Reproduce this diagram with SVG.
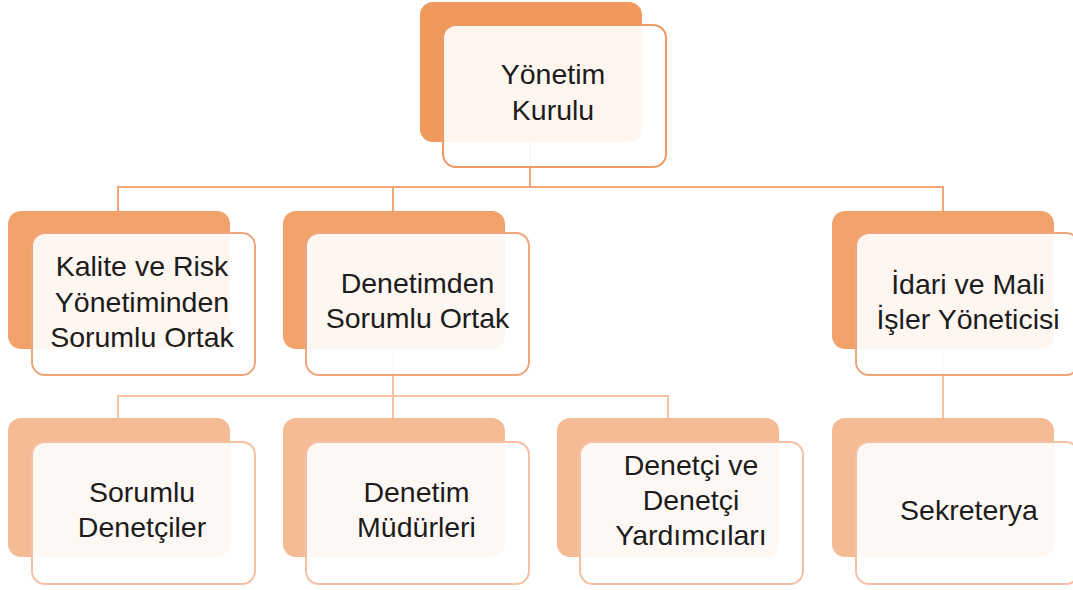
<svg xmlns="http://www.w3.org/2000/svg" width="1073" height="590" viewBox="0 0 1073 590">
<style>
.bg{fill:#ffffff}
.c1{fill:none;stroke:#F2A677;stroke-width:2}
.c2{fill:none;stroke:#F6C2A4;stroke-width:2}
.b1{fill:#EF9A5C}
.b2{fill:#F0A26A}
.b3{fill:#F4BB95}
.f1{fill:#ffffff;fill-opacity:0.9;stroke:#EE9A64;stroke-width:2}
.f2{fill:#ffffff;fill-opacity:0.9;stroke:#F0A67C;stroke-width:2}
.f3{fill:#ffffff;fill-opacity:0.9;stroke:#F5C1A5;stroke-width:2}
text{font-family:"Liberation Sans",Arial,sans-serif;font-size:28.5px;fill:#1c1c1c;text-anchor:middle}
</style>
<rect class="bg" x="0" y="0" width="1073" height="590"/>
<g id="connectors">
<path class="c1" d="M530,100 V187 M118,212 V187 H943 V212 M393,187 V212"/>
<path class="c2" d="M393,300 V396 M118,418 V396 H668 V418 M393,396 V418"/>
<path class="c2" d="M943,300 V418"/>
</g>
<g id="n-yonetim">
<rect class="b1" x="420" y="2" width="222" height="140" rx="13"/>
<rect class="f1" x="443" y="25" width="223" height="142" rx="13"/>
<text x="553" y="84">Yönetim</text>
<text x="553" y="120">Kurulu</text>
</g>
<g id="n-kalite">
<rect class="b2" x="8" y="211" width="222" height="138" rx="13"/>
<rect class="f2" x="32" y="233" width="223" height="142" rx="13"/>
<text x="142" y="276">Kalite ve Risk</text>
<text x="142" y="312">Yönetiminden</text>
<text x="142" y="347">Sorumlu Ortak</text>
</g>
<g id="n-denetimden">
<rect class="b2" x="283" y="211" width="222" height="138" rx="13"/>
<rect class="f2" x="306" y="233" width="223" height="142" rx="13"/>
<text x="417.5" y="293">Denetimden</text>
<text x="417.5" y="328">Sorumlu Ortak</text>
</g>
<g id="n-idari">
<rect class="b2" x="832" y="211" width="222" height="138" rx="13"/>
<rect class="f2" x="856" y="233" width="223" height="142" rx="13"/>
<text x="968" y="294">İdari ve Mali</text>
<text x="968" y="329">İşler Yöneticisi</text>
</g>
<g id="n-sorumlu-denetciler">
<rect class="b3" x="8" y="418" width="222" height="139" rx="13"/>
<rect class="f3" x="32" y="442" width="223" height="142" rx="13"/>
<text x="142" y="502">Sorumlu</text>
<text x="142" y="537">Denetçiler</text>
</g>
<g id="n-denetim-mudurleri">
<rect class="b3" x="283" y="418" width="222" height="139" rx="13"/>
<rect class="f3" x="306" y="442" width="223" height="142" rx="13"/>
<text x="416.5" y="502">Denetim</text>
<text x="416.5" y="537">Müdürleri</text>
</g>
<g id="n-denetci">
<rect class="b3" x="557" y="418" width="222" height="139" rx="13"/>
<rect class="f3" x="580" y="442" width="223" height="142" rx="13"/>
<text x="691" y="475">Denetçi ve</text>
<text x="691" y="510">Denetçi</text>
<text x="691" y="545">Yardımcıları</text>
</g>
<g id="n-sekreterya">
<rect class="b3" x="832" y="418" width="222" height="139" rx="13"/>
<rect class="f3" x="856" y="442" width="223" height="142" rx="13"/>
<text x="969" y="520">Sekreterya</text>
</g>
</svg>
